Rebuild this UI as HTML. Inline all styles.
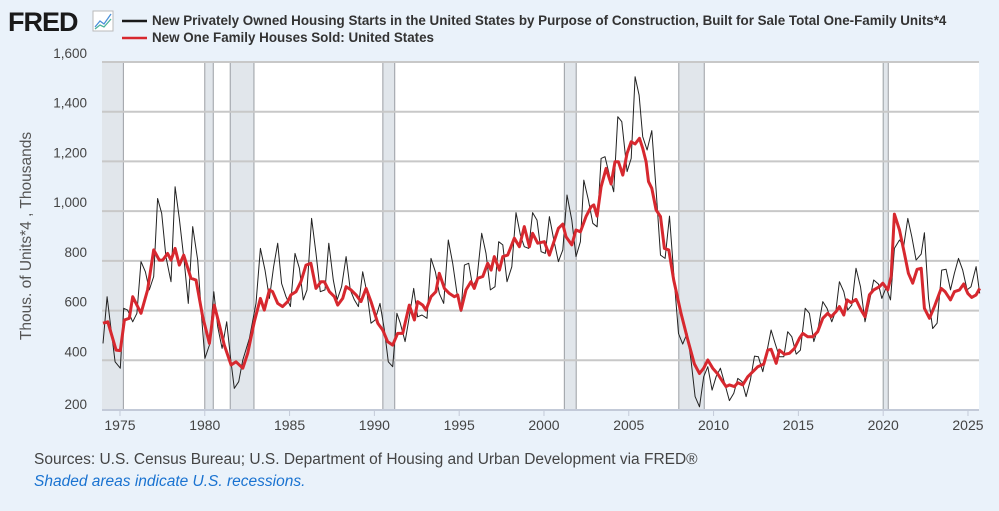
<!DOCTYPE html>
<html><head><meta charset="utf-8">
<style>
html,body{margin:0;padding:0;background:#eaf2fa;}
body{width:999px;height:511px;overflow:hidden;position:relative;font-family:"Liberation Sans",sans-serif;}
svg{position:absolute;left:0;top:0;}
</style></head>
<body>
<svg id="chart" width="999" height="511">
  <text x="8" y="31" font-size="27" font-weight="bold" fill="#1a1a1a" letter-spacing="-1">FRED</text>
  <g>
    <rect x="93" y="11" width="20" height="20" fill="#fff" stroke="#bbb" stroke-width="1"/>
    <polyline points="95,27 100,21 104,24 111,14" fill="none" stroke="#4a90d9" stroke-width="1.3"/>
    <polyline points="95,29 100,25 104,27 111,19" fill="none" stroke="#4bb39a" stroke-width="1.3"/>
  </g>
  <g>
    <line x1="122" y1="21" x2="147" y2="21" stroke="#1a1a1a" stroke-width="2.5"/>
    <text x="152" y="25" font-size="13.4" font-weight="bold" fill="#333">New Privately Owned Housing Starts in the United States by Purpose of Construction, Built for Sale Total One-Family Units*4</text>
  </g>
  <g>
    <line x1="122" y1="38" x2="147" y2="38" stroke="#d7282f" stroke-width="2.5"/>
    <text x="152" y="42" font-size="13.4" font-weight="bold" fill="#333">New One Family Houses Sold: United States</text>
  </g>
  <rect x="102" y="62" width="877" height="348" fill="#fff"/>
  <g id="rec"></g>
  <g id="grid"></g>
  <g id="series"></g>
  <g id="axes"></g>
  <text transform="translate(31,236) rotate(-90)" text-anchor="middle" font-size="15.5" fill="#555">Thous. of Units*4 , Thousands</text>
  <text x="34" y="464" font-size="15.5" fill="#444">Sources: U.S. Census Bureau; U.S. Department of Housing and Urban Development via FRED®</text>
  <text x="34" y="486" font-size="15.5" font-style="italic" fill="#1a73d1">Shaded areas indicate U.S. recessions.</text>
</svg>
<script>
const yTicks=[200,400,600,800,1000,1200,1400,1600];
const yTickLabels=["200","400","600","800","1,000","1,200","1,400","1,600"];
const xTicks=[1975,1980,1985,1990,1995,2000,2005,2010,2015,2020,2025];
const recStart=[1973.9,1980.0,1981.5,1990.5,2001.2,2007.95,2020.0];
const recEnd=[1975.2,1980.5,1982.9,1991.2,2001.9,2009.45,2020.3];
const soldDates=[1974.0,1974.28,1974.77,1975.02,1975.26,1975.55,1975.75,1976.24,1976.63,1976.99,1977.32,1977.52,1977.81,1978.01,1978.25,1978.5,1978.76,1979.19,1979.48,1979.88,1980.27,1980.56,1980.86,1981.15,1981.55,1981.84,1982.24,1982.53,1982.92,1983.28,1983.51,1983.81,1984.0,1984.3,1984.59,1984.89,1985.08,1985.38,1985.67,1985.97,1986.26,1986.56,1986.85,1987.05,1987.35,1987.64,1987.84,1988.13,1988.33,1988.62,1988.92,1989.21,1989.51,1989.8,1990.2,1990.49,1990.78,1991.08,1991.37,1991.67,1992.06,1992.36,1992.55,1992.85,1993.04,1993.34,1993.63,1993.83,1994.13,1994.42,1994.72,1994.91,1995.11,1995.4,1995.7,1995.89,1996.09,1996.39,1996.68,1996.88,1997.07,1997.37,1997.57,1997.86,1998.25,1998.55,1998.84,1999.14,1999.33,1999.63,2000.02,2000.32,
2000.62,2000.85,2001.11,2001.30,2001.64,2001.89,2002.15,2002.48,2002.78,2002.94,2003.13,2003.37,2003.66,2003.96,2004.19,2004.39,2004.65,2004.90,2005.14,2005.37,2005.63,2005.82,2006.02,2006.16,2006.36,2006.61,2006.87,2007.10,2007.36,2007.65,2008.08,2008.48,2008.87,2009.17,2009.42,2009.66,2009.95,2010.25,2010.54,2010.74,2010.93,2011.23,2011.43,2011.72,2012.02,2012.31,2012.61,2012.96,2013.19,2013.39,2013.69,2013.88,2014.18,2014.47,2014.77,2015.06,2015.26,2015.55,2015.85,2016.14,2016.44,2016.73,2016.93,2017.22,2017.42,2017.68,2017.87,2018.11,2018.40,2018.70,2018.93,2019.19,2019.44,2019.78,2019.98,2020.27,2020.47,2020.66,2020.96,2021.25,2021.49,2021.74,2022.00,2022.24,2022.43,2022.73,2023.02,2023.42,2023.65,2023.97,2024.20,2024.50,2024.75,2024.99,2025.22,2025.48,2025.69];
const soldValues=[549,555,441,439,562,569,656,589,683,844,803,803,830,803,850,783,823,730,723,575,468,622,542,461,381,394,368,428,555,649,602,683,676,629,616,636,663,676,716,783,790,689,716,716,676,656,622,649,696,683,663,636,689,636,549,522,475,461,508,508,622,562,636,622,602,656,676,750,689,669,656,663,602,683,716,689,730,737,790,763,817,763,817,823,891,857,938,857,911,871,877,823,
884,931,948,897,864,924,917,978,1018,1025,980,1098,1172,1109,1199,1199,1145,1233,1279,1270,1293,1253,1199,1119,1092,1005,978,850,844,723,589,482,385,347,368,401,368,345,314,294,301,294,310,301,334,354,374,385,441,444,388,441,424,428,448,488,508,495,495,515,569,589,575,596,616,582,643,632,645,602,575,663,683,696,710,683,737,988,924,830,750,710,766,770,609,569,616,689,676,643,676,683,707,669,653,663,689];
const startsDates=[1974.0,1974.24,1974.43,1974.71,1975.02,1975.22,1975.45,1975.75,1976.0,1976.24,1976.5,1976.73,1976.99,1977.22,1977.46,1977.71,1978.01,1978.25,1978.5,1978.8,1979.03,1979.29,1979.58,1979.82,1980.01,1980.27,1980.53,1980.76,1981.02,1981.29,1981.51,1981.74,1982.0,1982.24,1982.63,1983.02,1983.28,1983.55,1983.81,1984.06,1984.3,1984.53,1984.79,1985.05,1985.32,1985.58,1985.81,1986.03,1986.3,1986.56,1986.81,1987.09,1987.31,1987.58,1987.8,1988.07,1988.33,1988.58,1988.82,1989.06,1989.31,1989.57,1989.8,1990.04,1990.33,1990.59,1990.82,1991.08,1991.33,1991.53,1991.81,1992.06,1992.32,1992.55,1992.81,1993.1,1993.34,1993.6,1993.83,1994.09,1994.36,1994.62,1994.87,1995.11,1995.31,1995.56,1995.8,1996.05,1996.33,1996.58,1996.84,1997.11,1997.33,1997.57,1997.82,1998.1,1998.35,1998.61,1998.84,1999.1,1999.33,1999.59,1999.83,2000.08,2000.32,
2000.58,2000.85,2001.11,2001.36,2001.64,2001.89,2002.15,2002.35,2002.62,2002.88,2003.13,2003.37,2003.60,2003.86,2004.11,2004.35,2004.59,2004.90,2005.14,2005.37,2005.61,2005.82,2006.08,2006.36,2006.61,2006.87,2007.14,2007.40,2007.65,2007.93,2008.18,2008.44,2008.67,2008.91,2009.17,2009.42,2009.66,2009.91,2010.15,2010.40,2010.68,2010.93,2011.19,2011.43,2011.68,2011.92,2012.17,2012.41,2012.64,2012.90,2013.16,2013.39,2013.63,2013.88,2014.14,2014.37,2014.61,2014.87,2015.12,2015.40,2015.65,2015.91,2016.18,2016.44,2016.69,2016.97,2017.22,2017.42,2017.68,2017.91,2018.15,2018.40,2018.66,2018.93,2019.19,2019.44,2019.72,2019.92,2020.17,2020.43,2020.66,2020.96,2021.21,2021.45,2021.69,2021.94,2022.24,2022.43,2022.67,2022.92,2023.18,2023.45,2023.71,2023.97,2024.20,2024.44,2024.69,2024.95,2025.18,2025.48,2025.69];
const startsValues=[468,656,549,394,368,609,602,555,589,797,756,683,737,1051,991,817,716,1098,971,790,629,938,803,569,408,461,676,535,448,555,414,287,314,401,488,629,850,763,649,776,871,709,656,616,830,770,643,683,971,830,676,683,871,723,643,696,817,683,643,616,756,669,549,562,629,522,394,374,589,549,475,575,689,575,582,569,810,756,669,629,884,790,669,596,783,790,696,730,911,830,683,696,877,864,716,776,994,904,857,850,994,964,837,830,978,
884,797,844,1065,964,817,877,1125,1045,951,937,1212,1219,1145,1078,1380,1360,1159,1212,1541,1467,1300,1246,1324,1085,823,810,980,750,508,465,508,401,254,213,334,374,280,334,368,301,238,267,327,314,254,321,417,414,354,441,522,468,414,414,515,495,425,441,609,589,475,535,636,609,555,602,716,676,602,622,770,696,555,636,723,707,649,693,643,850,884,860,971,897,803,827,913,649,528,549,763,766,683,750,810,763,683,696,777,669];

const NS='http://www.w3.org/2000/svg';
const X0=102,X1=979,Y0=410,Y1=62;
const xS=d=>X0+(d-1973.94)*16.96;
const yS=v=>Y0-(v-200)/1400*(Y0-Y1);
function mk(tag,attrs,parent){const e=document.createElementNS(NS,tag);for(const k in attrs)e.setAttribute(k,attrs[k]);parent.appendChild(e);return e;}
const rec=document.getElementById('rec'),grid=document.getElementById('grid'),ser=document.getElementById('series'),ax=document.getElementById('axes');
recStart.forEach((s,i)=>{
  const a=Math.max(X0,xS(s)),b=xS(recEnd[i]);
  const r=mk('rect',{x:a,y:Y1,width:b-a,height:Y0-Y1,fill:'#e1e6eb'},rec);
  
  
  [a,b].forEach(px=>{if(px>X0+1)mk('line',{x1:px,y1:Y1,x2:px,y2:Y0,stroke:'#9a9ea3','stroke-width':1},rec);});
});
yTicks.forEach((v,i)=>{
  if(v>200){const g=mk('line',{x1:X0,y1:yS(v),x2:X1,y2:yS(v),stroke:'#c8c8c8','stroke-width':2},grid);
  
  }
  const t=mk('text',{x:87,y:yS(v)+(v==200?-1:-4),'text-anchor':'end','font-size':13.5,fill:'#444'},ax);
  t.textContent=yTickLabels[i];
  
  
});
mk('line',{x1:X0,y1:Y0,x2:X1,y2:Y0,stroke:'#c3cad8','stroke-width':2},ax);
xTicks.forEach(y=>{
  const px=xS(y);
  mk('line',{x1:px,y1:Y0,x2:px,y2:Y0+6,stroke:'#c3cad8','stroke-width':1},ax);
  const t=mk('text',{x:px,y:430,'text-anchor':'middle','font-size':14,fill:'#444'},ax);
  t.textContent=String(y);
  
  
});
function line(dates,vals,color,w,name){
  const p=mk('polyline',{points:dates.map((d,i)=>xS(d).toFixed(1)+','+yS(vals[i]).toFixed(1)).join(' '),fill:'none',stroke:color,'stroke-width':w,'stroke-linejoin':'round'},ser);
  
  
}
line(startsDates,startsValues,'#222',1,'housing-starts-line');
line(soldDates,soldValues,'#d7282f',3,'houses-sold-line');
</script>
</body></html>
